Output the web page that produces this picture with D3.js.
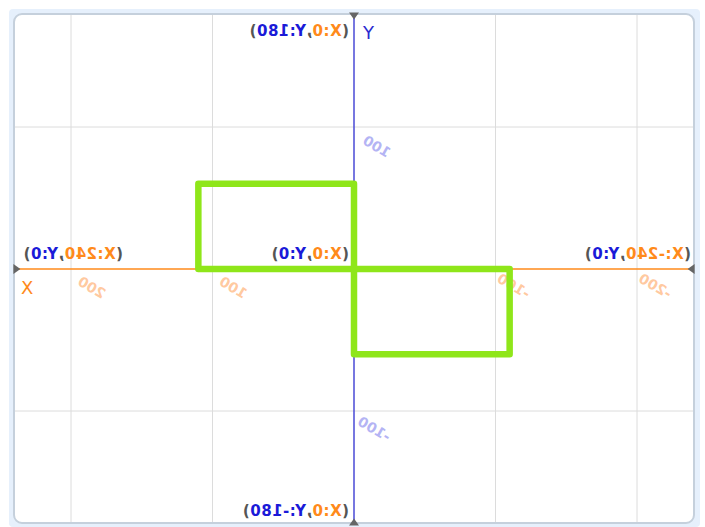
<!DOCTYPE html>
<html>
<head>
<meta charset="utf-8">
<script src="https://cdn.jsdelivr.net/npm/d3@7"></script>
<style>
  body { margin: 0; background: #fff; }
  svg { display: block; }
  .corner { font-family: "DejaVu Sans", sans-serif; font-weight: bold; font-size: 15px; letter-spacing: 0.5px; }
  .tick-label { font-family: "DejaVu Sans", sans-serif; font-weight: bold; font-size: 14px; }
</style>
</head>
<body>
<div id="chart"></div>
<script>
// Stage grid (mirrored Scratch stage)
const xTicks = [200, 100, -100, -200];
const yTicks = [100, -100];
const xTickLabels = ['200', '100', '-100', '-200'];
const yTickLabels = ['100', '-100'];

// pen path drawn on stage
const penX = [0, 0, 110, 110, -110, -110, 0, 0];
const penY = [0, 60, 60, 0, 0, -60, -60, 0];

// corner coordinate labels
const cornerX = [0, 240, -240, 0, 0];
const cornerY = [180, 0, 0, 0, -180];

const width = 705, height = 527;

const svg = d3.select('#chart').append('svg')
    .attr('width', width)
    .attr('height', height);

// x is mirrored: positive to the left
const xScale = d3.scaleLinear().domain([240, -240]).range([14.4, 693.6]);
const yScale = d3.scaleLinear().domain([180, -180]).range([13.4, 524.6]);

// frame
svg.append('rect')
    .attr('x', 9).attr('y', 9)
    .attr('width', 691).attr('height', 518)
    .attr('rx', 4)
    .attr('fill', '#e6f0fc');
svg.append('rect')
    .attr('x', 14).attr('y', 14)
    .attr('width', 680).attr('height', 509)
    .attr('rx', 8)
    .attr('fill', '#fff')
    .attr('stroke', '#c5d0dc')
    .attr('stroke-width', 2);

// grid lines
svg.append('g').selectAll('line')
    .data(xTicks).enter().append('line')
    .attr('x1', d => xScale(d)).attr('x2', d => xScale(d))
    .attr('y1', 15).attr('y2', 522)
    .attr('stroke', '#dcdcdc').attr('stroke-width', 1);
svg.append('g').selectAll('line')
    .data(yTicks).enter().append('line')
    .attr('y1', d => yScale(d)).attr('y2', d => yScale(d))
    .attr('x1', 15).attr('x2', 693)
    .attr('stroke', '#dcdcdc').attr('stroke-width', 1);

// axes
svg.append('line')
    .attr('x1', xScale(240)).attr('x2', xScale(-240))
    .attr('y1', yScale(0)).attr('y2', yScale(0))
    .attr('stroke', '#ff8a1a').attr('stroke-width', 1.5);
svg.append('line')
    .attr('x1', xScale(0)).attr('x2', xScale(0))
    .attr('y1', yScale(180)).attr('y2', yScale(-180))
    .attr('stroke', '#4a4ad6').attr('stroke-width', 1.5);

// arrow heads at axis ends, pointing inward
const arrows = [
    [xScale(240), yScale(0), 0],
    [xScale(-240), yScale(0), 180],
    [xScale(0), yScale(180), 90],
    [xScale(0), yScale(-180), -90]
];
svg.append('g').selectAll('path')
    .data(arrows).enter().append('path')
    .attr('d', 'M-1,-5 L6,0 L-1,5 Z')
    .attr('fill', '#666')
    .attr('transform', d => 'translate(' + d[0] + ',' + d[1] + ') rotate(' + d[2] + ')');

// tick labels (mirrored + rotated)
svg.append('g').selectAll('text')
    .data(xTicks).enter().append('text')
    .attr('class', 'tick-label')
    .attr('fill', '#ffc9a0')
    .attr('transform', d => 'translate(' + (xScale(d) + 31) + ',' + (yScale(0) + 30) + ') scale(-1,1) rotate(-30)')
    .text((d, i) => xTickLabels[i]);
svg.append('g').selectAll('text')
    .data(yTicks).enter().append('text')
    .attr('class', 'tick-label')
    .attr('fill', '#b4b4f4')
    .attr('transform', d => 'translate(' + (xScale(0) + 33) + ',' + (yScale(d) + 31) + ') scale(-1,1) rotate(-30)')
    .text((d, i) => yTickLabels[i]);

// pen path
const line = d3.line()
    .x(d => xScale(d[0]))
    .y(d => yScale(d[1]));
svg.append('path')
    .attr('d', line(penX.map((x, i) => [x, penY[i]])))
    .attr('fill', 'none')
    .attr('stroke', '#8fe61a')
    .attr('stroke-width', 6.5)
    .attr('stroke-linejoin', 'round');

// axis letters
svg.append('text')
    .attr('x', xScale(0) + 9).attr('y', 39)
    .attr('fill', '#2a2ad0')
    .style('font-family', 'DejaVu Sans, sans-serif')
    .style('font-size', '18px')
    .text('Y');
svg.append('text')
    .attr('x', 21).attr('y', yScale(0) + 25)
    .attr('fill', '#ff8a1a')
    .style('font-family', 'DejaVu Sans, sans-serif')
    .style('font-size', '18px')
    .text('X');

// corner labels: start anchored at the right edge, mirrored
const labelPos = [
    [349, 36], [123, 259], [691, 259], [349, 259], [349, 516]
];
const cl = svg.append('g').selectAll('text')
    .data(cornerX).enter().append('text')
    .attr('class', 'corner')
    .attr('transform', (d, i) => 'translate(' + labelPos[i][0] + ',' + labelPos[i][1] + ') scale(-1,1)');
cl.append('tspan').attr('fill', '#555').text('(');
cl.append('tspan').attr('fill', '#ff8a1a').text(d => 'X:' + d);
cl.append('tspan').attr('fill', '#555').text(',');
cl.append('tspan').attr('fill', '#1a1ad8').text((d, i) => 'Y:' + cornerY[i]);
cl.append('tspan').attr('fill', '#555').text(')');
</script>
</body>
</html>
